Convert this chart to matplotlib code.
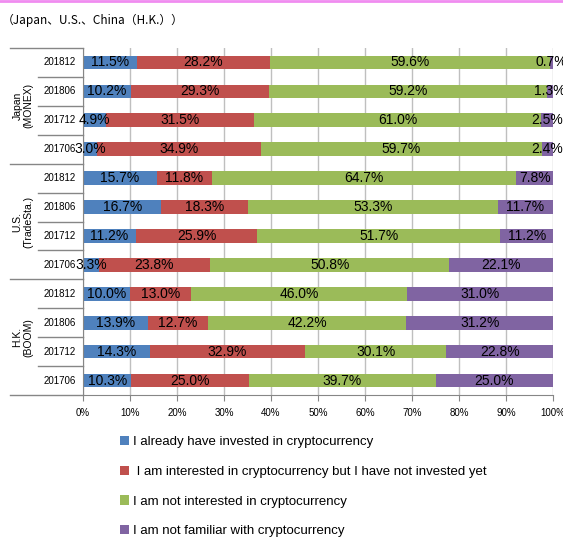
import numpy as np
import matplotlib.pyplot as plt
import matplotlib.transforms as mtransforms
from matplotlib.lines import Line2D
from matplotlib.patches import Patch

plt.rcParams['font.family'] = ['Liberation Sans', 'DejaVu Sans']

groups = ["Japan\n(MONEX)", "U.S.\n(TradeSta.)", "H.K.\n(BOOM)"]
periods = ["201812", "201806", "201712", "201706"]
series_names = ["I already have invested in cryptocurrency",
                " I am interested in cryptocurrency but I have not invested yet",
                "I am not interested in cryptocurrency",
                "I am not familiar with cryptocurrency"]

invested = [11.5, 10.2, 4.9, 3.0, 15.7, 16.7, 11.2, 3.3, 10.0, 13.9, 14.3, 10.3]
interested = [28.2, 29.3, 31.5, 34.9, 11.8, 18.3, 25.9, 23.8, 13.0, 12.7, 32.9, 25.0]
not_interested = [59.6, 59.2, 61.0, 59.7, 64.7, 53.3, 51.7, 50.8, 46.0, 42.2, 30.1, 39.7]
not_familiar = [0.7, 1.3, 2.5, 2.4, 7.8, 11.7, 11.2, 22.1, 31.0, 31.2, 22.8, 25.0]

colors = ["#4F81BD", "#C0504D", "#9BBB59", "#8064A2"]

fig = plt.figure(figsize=(5.63, 5.38), dpi=100)
ax = fig.add_axes([83 / 563, 1 - 395 / 538, 470 / 563, 347 / 538])

data = [invested, interested, not_interested, not_familiar]
ypos = np.arange(len(invested))
left = np.zeros(len(invested))
for vals, c in zip(data, colors):
    vals = np.array(vals)
    ax.barh(ypos, vals, left=left, height=0.47, color=c, zorder=2)
    for y, l, v in zip(ypos, left, vals):
        ax.text(l + v / 2, y, f"{v:.1f}%", ha='center', va='center',
                fontsize=10, color='black', zorder=3)
    left = left + vals

ax.set_xlim(0, 100)
ax.set_ylim(len(invested) - 0.5, -0.5)
ax.set_xticks(np.arange(0, 101, 10))
ax.set_xticklabels([f"{t}%" for t in range(0, 101, 10)], fontsize=7)
ax.tick_params(axis='x', length=4, color='#868686', pad=5)
ax.set_yticks([])
ax.grid(axis='x', color='#BFBFBF', linewidth=1, zorder=0)
for s in ['top', 'right']:
    ax.spines[s].set_visible(False)
ax.spines['left'].set_color('#868686')
ax.spines['bottom'].set_color('#868686')

# category labels and separators left of the axis
trans = mtransforms.blended_transform_factory(ax.transAxes, ax.transData)
n_per = len(periods)
for i in range(len(invested)):
    ax.text(-0.049, i, periods[i % n_per], transform=trans, ha='center',
            va='center', fontsize=7)
for k in range(len(invested) + 1):
    x0 = -0.155 if k % n_per == 0 else -0.096
    ax.plot([x0, 0], [k - 0.5, k - 0.5], transform=trans, color='#868686',
            linewidth=1, clip_on=False)
for g, name in enumerate(groups):
    ax.text(-0.128, g * n_per + 1.5, name, transform=trans, ha='center',
            va='center', rotation=90, fontsize=7.5, linespacing=1.1)

# title and top rule
fig.add_artist(Line2D([0, 1], [0.998, 0.998], color='#F08CF0', linewidth=2))
fig.text(2 / 563, 1 - 20 / 538, "（Japan、U.S.、China（H.K.））", ha='left',
         va='center', fontsize=8.5, family=['Noto Sans CJK JP', 'DejaVu Sans'])

handles = [Patch(facecolor=c) for c in colors]
fig.legend(handles, series_names, loc='upper left',
           bbox_to_anchor=(120 / 563, 1 - 436 / 538), frameon=False,
           fontsize=9.5, handlelength=0.7, handleheight=0.7, handletextpad=0.3,
           labelspacing=1.32, borderaxespad=0, borderpad=0)

fig.savefig('out.png', dpi=100)
